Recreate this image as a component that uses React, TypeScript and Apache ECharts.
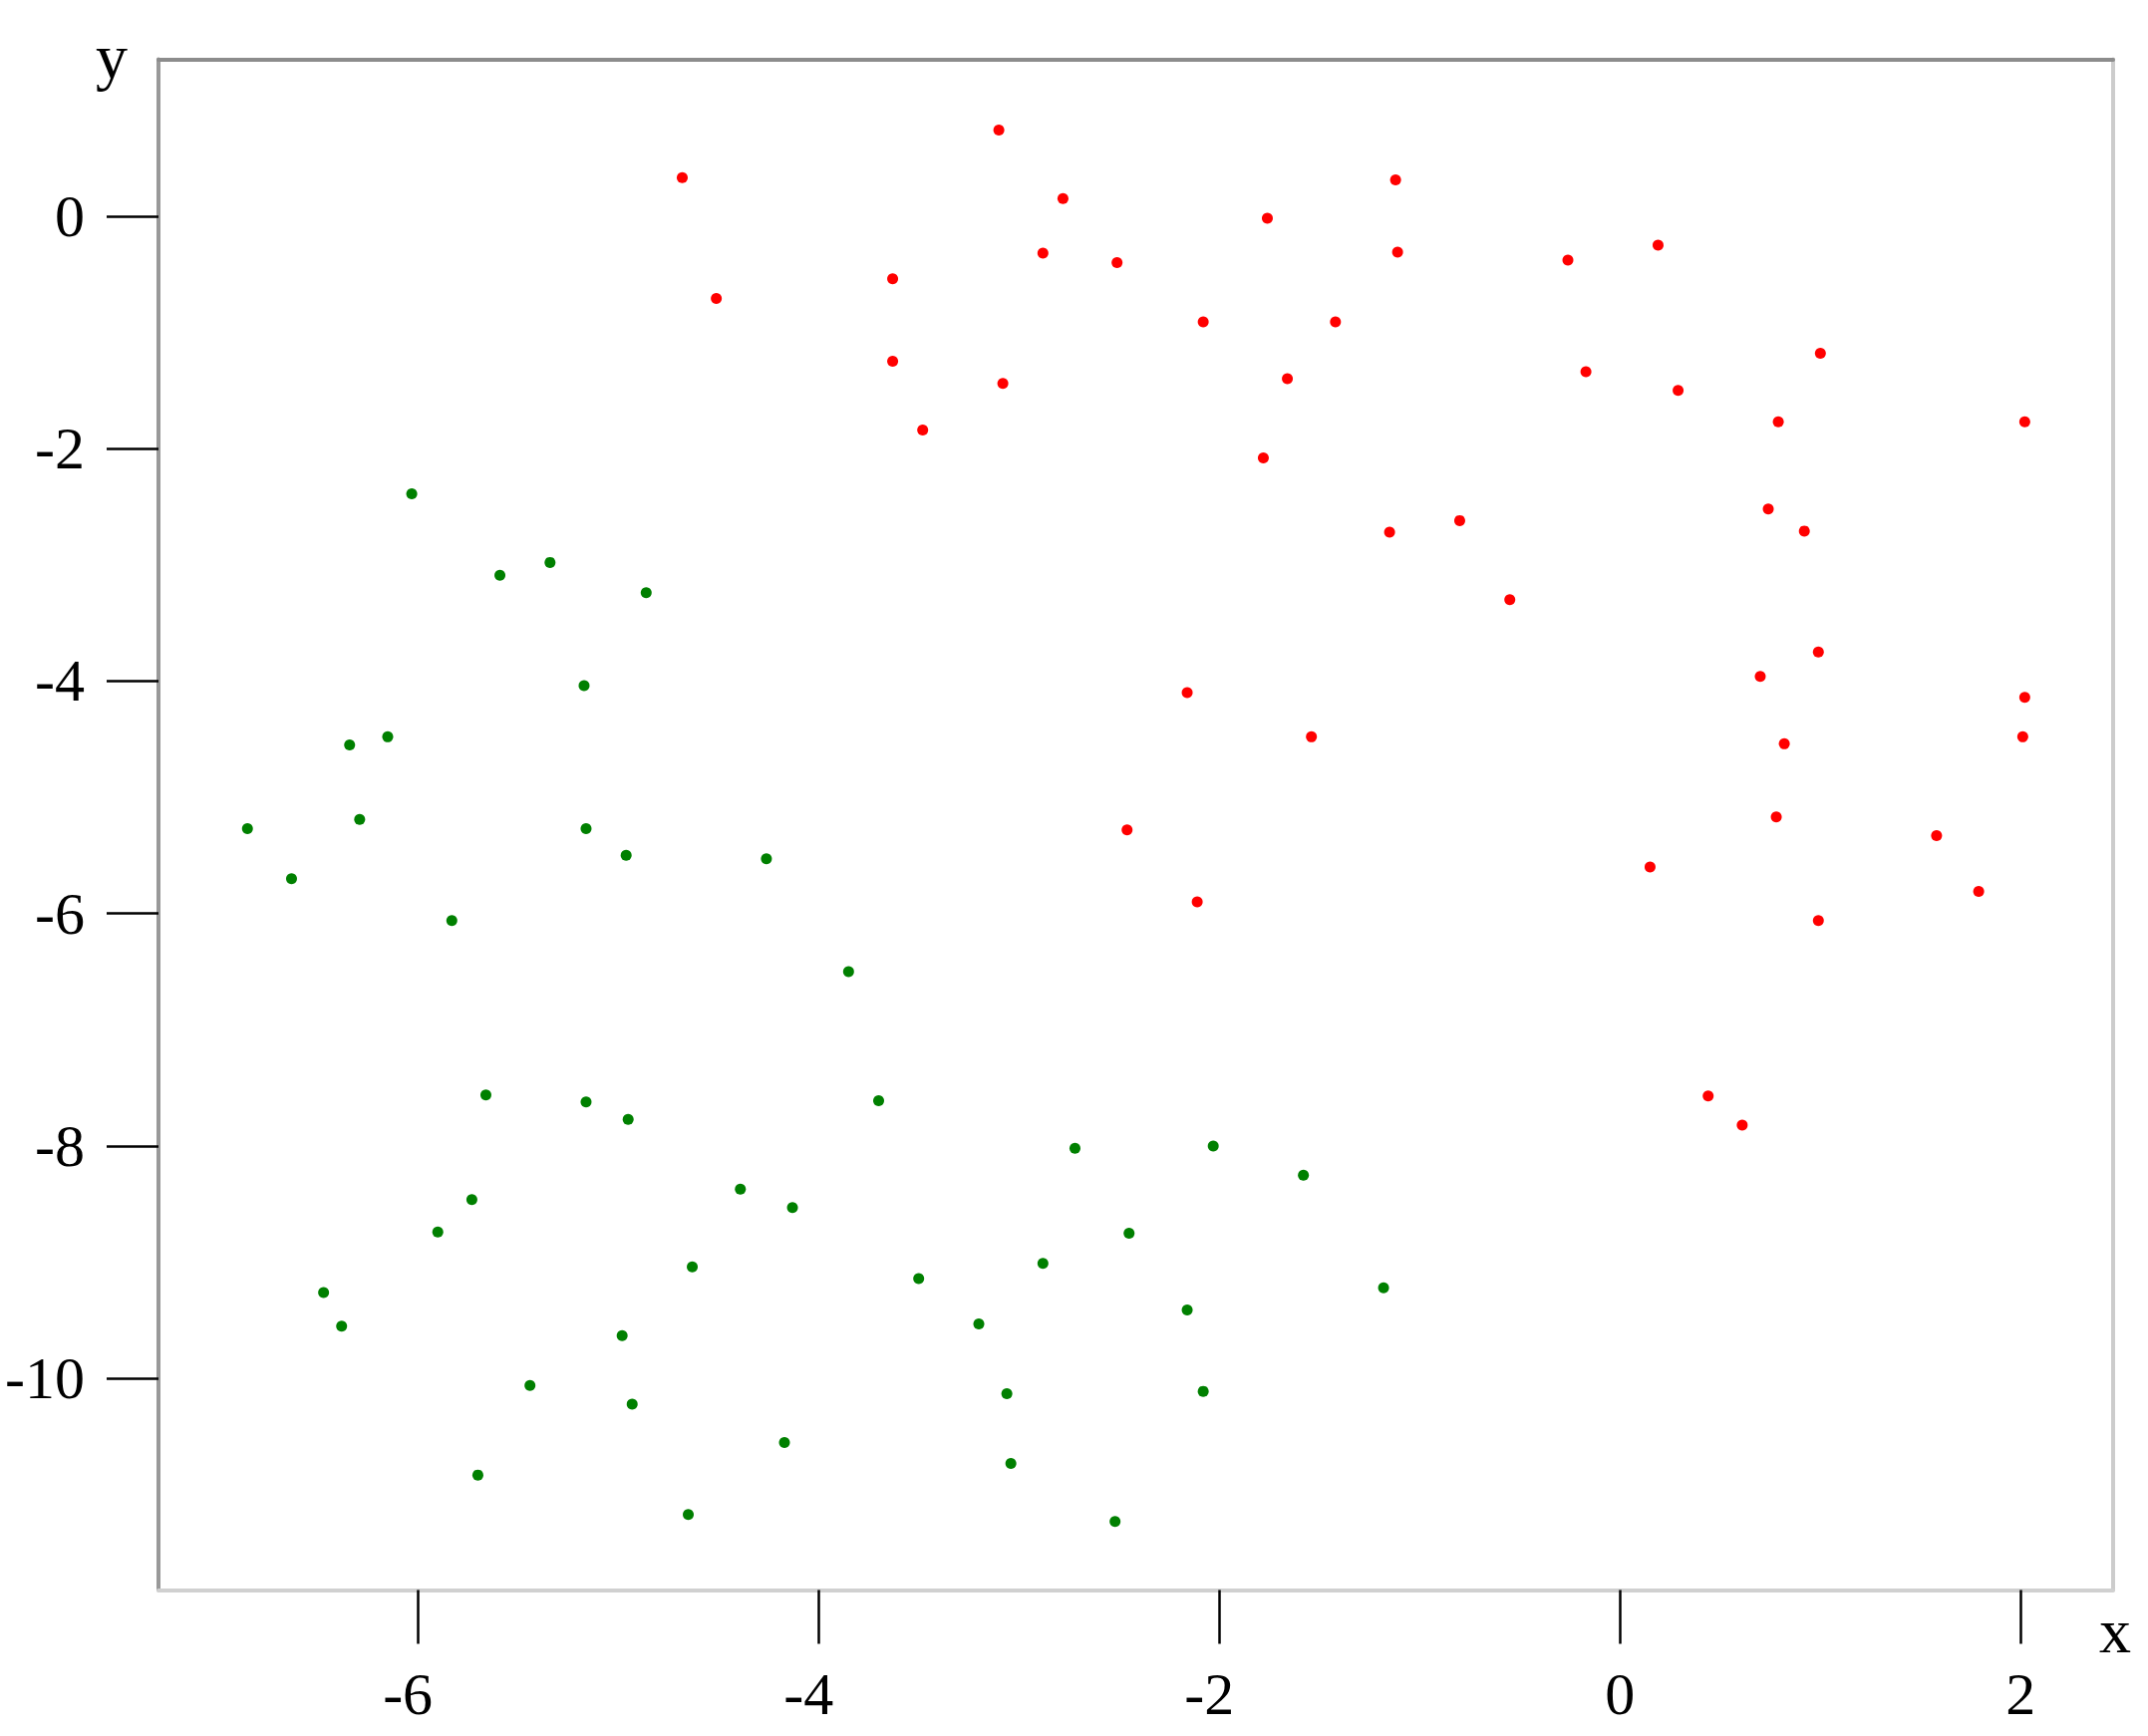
import React, { useEffect, useRef } from "react";
import * as echarts from "echarts";

const xTicks = [-6, -4, -2, 0, 2];
const yTicks = [0, -2, -4, -6, -8, -10];

const redPoints: [number, number][] = [
  [-4.68, 0.33], [-3.1, 0.74], [-4.51, -0.71], [-2.78, 0.15], [-2.88, -0.32],
  [-2.51, -0.4], [-3.63, -0.54], [-3.63, -1.25], [-3.08, -1.44], [-3.48, -1.84],
  [-1.76, -0.02], [-1.12, 0.31], [-1.11, -0.31], [-2.08, -0.91], [-1.42, -0.91],
  [-1.66, -1.4], [-1.78, -2.08], [-0.26, -0.38], [0.19, -0.25], [-0.17, -1.34],
  [0.29, -1.5], [1.0, -1.18], [0.79, -1.77], [2.02, -1.77], [-1.15, -2.72],
  [-0.8, -2.62], [-0.55, -3.3], [0.74, -2.52], [0.92, -2.71], [0.7, -3.96],
  [0.99, -3.75], [2.02, -4.14], [0.82, -4.54], [2.01, -4.48], [-2.16, -4.1],
  [-1.54, -4.48], [-2.46, -5.28], [-2.11, -5.9], [0.78, -5.17], [0.15, -5.6],
  [1.58, -5.33], [1.79, -5.81], [0.99, -6.06], [0.44, -7.57], [0.61, -7.82],
];

const greenPoints: [number, number][] = [
  [-6.03, -2.39], [-5.59, -3.09], [-5.34, -2.98], [-4.86, -3.24], [-5.17, -4.04],
  [-6.34, -4.55], [-6.15, -4.48], [-6.85, -5.27], [-6.29, -5.19], [-6.63, -5.7],
  [-5.16, -5.27], [-4.96, -5.5], [-4.26, -5.53], [-5.83, -6.06], [-3.85, -6.5],
  [-5.66, -7.56], [-5.16, -7.62], [-4.95, -7.77], [-3.7, -7.61], [-2.72, -8.02],
  [-2.03, -8.0], [-1.58, -8.25], [-5.73, -8.46], [-5.9, -8.74], [-4.39, -8.37],
  [-4.13, -8.53], [-4.63, -9.04], [-3.5, -9.14], [-2.88, -9.01], [-2.45, -8.75],
  [-1.18, -9.22], [-6.47, -9.26], [-6.38, -9.55], [-4.98, -9.63], [-3.2, -9.53],
  [-2.16, -9.41], [-5.44, -10.06], [-4.93, -10.22], [-3.06, -10.13], [-2.08, -10.11],
  [-4.17, -10.55], [-5.7, -10.83], [-3.04, -10.73], [-4.65, -11.17], [-2.52, -11.23],
];

const X_MIN = -7.294;
const X_MAX = 2.461;
const Y_MIN = -11.819;
const Y_MAX = 1.348;

const FONT = "'Liberation Serif', 'Times New Roman', serif";

export default function App() {
  const ref = useRef<HTMLDivElement>(null);

  useEffect(() => {
    document.body.style.margin = "0";
    if (!ref.current) return;
    const chart = echarts.init(ref.current, undefined, { renderer: "svg" });
    const hidden = {
      axisTick: { show: false },
      axisLabel: { show: false },
      splitLine: { show: false },
    };
    chart.setOption({
      animation: false,
      backgroundColor: "#ffffff",
      grid: { left: 159, right: 35, top: 59.5, bottom: 146.5, containLabel: false },
      xAxis: [
        {
          type: "value",
          position: "bottom",
          min: X_MIN,
          max: X_MAX,
          splitLine: { show: false },
          axisLine: { show: true, onZero: false, lineStyle: { color: "#d0d0d0", width: 4 } },
          axisTick: {
            show: true,
            length: 54,
            customValues: xTicks,
            lineStyle: { color: "#000000", width: 2.5 },
          },
          axisLabel: {
            show: true,
            customValues: xTicks,
            margin: 104,
            verticalAlign: "middle",
            color: "#000000",
            fontFamily: FONT,
            fontSize: 60,
            formatter: (v: number) => (v < 0 ? `{neg|${v}}` : `{pos|${v}}`),
            rich: {
              neg: { fontFamily: FONT, fontSize: 60, color: "#000", padding: [0, 20, 0, 0] },
              pos: { fontFamily: FONT, fontSize: 60, color: "#000" },
            },
          },
        },
        {
          type: "value",
          position: "top",
          min: X_MIN,
          max: X_MAX,
          axisLine: { show: true, onZero: false, lineStyle: { color: "#8c8c8c", width: 4 } },
          ...hidden,
        },
      ],
      yAxis: [
        {
          type: "value",
          position: "left",
          min: Y_MIN,
          max: Y_MAX,
          splitLine: { show: false },
          axisLine: { show: true, onZero: false, lineStyle: { color: "#999999", width: 4 } },
          axisTick: {
            show: true,
            length: 52,
            customValues: yTicks,
            lineStyle: { color: "#000000", width: 2.5 },
          },
          axisLabel: {
            show: true,
            customValues: yTicks,
            margin: 74,
            align: "right",
            verticalAlign: "middle",
            color: "#000000",
            fontFamily: FONT,
            fontSize: 60,
          },
        },
        {
          type: "value",
          position: "right",
          min: Y_MIN,
          max: Y_MAX,
          axisLine: { show: true, onZero: false, lineStyle: { color: "#cccccc", width: 4 } },
          ...hidden,
        },
      ],
      graphic: [
        {
          type: "text",
          left: 96,
          top: 24,
          style: { text: "y", fontFamily: FONT, fontSize: 64, fill: "#000" },
        },
        {
          type: "text",
          left: 2106,
          top: 1604,
          style: { text: "x", fontFamily: FONT, fontSize: 64, fill: "#000" },
        },
      ],
      series: [
        {
          type: "scatter",
          xAxisIndex: 0,
          yAxisIndex: 0,
          data: redPoints,
          symbol: "circle",
          symbolSize: 11,
          itemStyle: { color: "#ff0000", opacity: 1 },
        },
        {
          type: "scatter",
          xAxisIndex: 0,
          yAxisIndex: 0,
          data: greenPoints,
          symbol: "circle",
          symbolSize: 11,
          itemStyle: { color: "#008000", opacity: 1 },
        },
      ],
    });
    return () => chart.dispose();
  }, []);

  return <div ref={ref} style={{ width: 2155, height: 1742 }} />;
}
